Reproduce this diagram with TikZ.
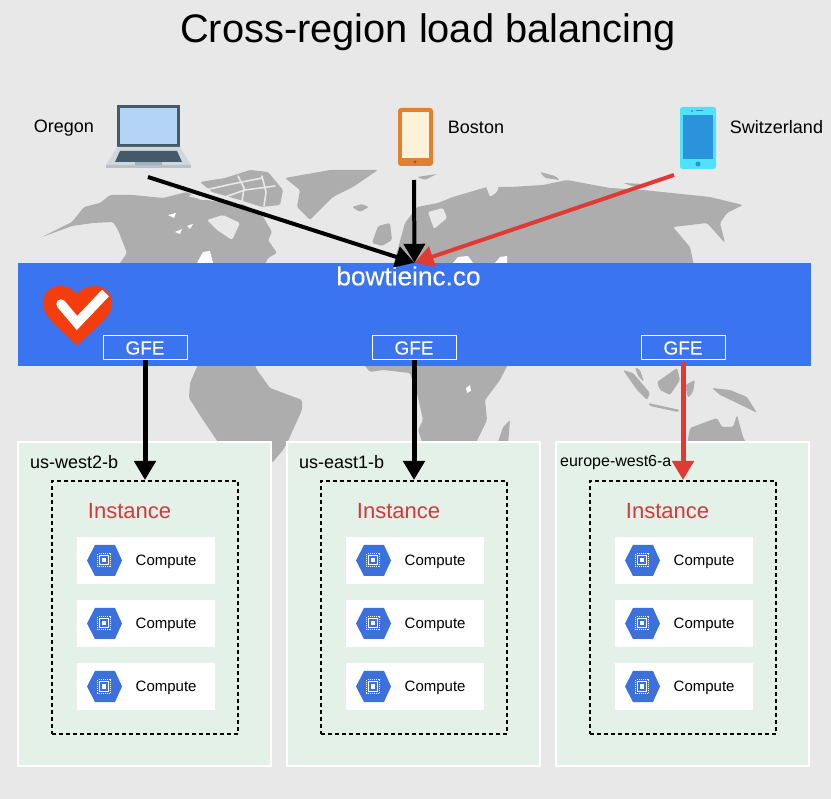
\documentclass[tikz,border=0pt]{standalone}
\usepackage{fontspec}
\setmainfont{Liberation Sans}
\newfontfamily\semibold[FakeBold=0.25]{Liberation Sans}
\usetikzlibrary{arrows.meta}
\definecolor{bgc}{HTML}{E8E8E8}
\definecolor{mapc}{HTML}{ADADAD}
\definecolor{bandc}{HTML}{3B74F0}
\definecolor{zonec}{HTML}{E3F1E8}
\definecolor{redc}{HTML}{E03A35}
\definecolor{instc}{HTML}{CF3B3B}
\definecolor{hexc}{HTML}{3C71DC}
\definecolor{heartc}{HTML}{F33D0C}
\definecolor{lapdark}{HTML}{455A69}
\definecolor{lapscreen}{HTML}{B3D4F5}
\definecolor{lapbase}{HTML}{CFD8DC}
\definecolor{lapnotch}{HTML}{9FB0BB}
\definecolor{lapedge}{HTML}{B5C2C9}
\definecolor{tabc}{HTML}{E08030}
\definecolor{tabscreen}{HTML}{FDF2D8}
\definecolor{tabbtn}{HTML}{A85A1C}
\definecolor{phonec}{HTML}{4FE3FB}
\definecolor{phonescreen}{HTML}{2A93DC}
\tikzset{
  fs/.style={font=\fontsize{#1}{#1}\selectfont},
  sfs/.style={font=\semibold\fontsize{#1}{#1}\selectfont},
  land/.style={fill=mapc,draw=none,rounded corners=1.5pt},
  sea/.style={fill=bgc,draw=none,rounded corners=1.5pt},
  seacut/.style={draw=bgc,line width=1.6pt,line cap=round},
  lake/.style={fill=white,draw=none},
  zonebox/.style={draw=white,line width=2pt,fill=zonec,minimum width=253pt,minimum height=324pt,inner sep=0pt},
  instbox/.style={draw=black,line width=2pt,dash pattern=on 4pt off 3pt,minimum width=186pt,minimum height=253pt,inner sep=0pt},
  compbox/.style={fill=white,minimum width=138pt,minimum height=47pt,inner sep=0pt},
  gfebox/.style={draw=white,line width=1pt,minimum width=84pt,minimum height=24pt,inner sep=0pt,text=white,sfs=19,fill=bandc},
  blackarrow/.style={draw=black,line width=4pt,-{Triangle[length=19pt,width=21pt]}},
  redarrow/.style={draw=redc,line width=4pt,-{Triangle[length=19pt,width=21pt]}},
}
\newcommand{\computeRow}[3]{%
  \node[compbox] (comp#1#2) at (146,#3) {};
  \node[fs=15,anchor=west,inner sep=0pt] (lab#1#2) at (135.5,#3+1.5) {Compute};
  \fill[hexc] (87,#3) -- ++(8,-15.5) -- ++(20,0) -- ++(7,15.5) -- ++(-7,15.5) -- ++(-20,0) -- cycle;
  \draw[white,line width=1pt] (99.5,#3-4.5) rectangle (108.5,#3+4.5);
  \fill[white] (102,#3-2) rectangle (106,#3+2);
  \draw[white,line width=1pt,dash pattern=on 1pt off 1pt] (97.5,#3-6.5) rectangle (110.5,#3+6.5);
}
\newcommand{\zoneBlock}[2]{%
  \begin{scope}[xshift=#2pt]
    \node[zonebox] (zone#1) at (144.5,604) {};
    \node[instbox] (inst#1) at (145,607.5) {};
    \node[fs=22,text=instc] (instlab#1) at (129.5,511) {Instance};
    \computeRow{#1}{a}{560.5}
    \computeRow{#1}{b}{623.5}
    \computeRow{#1}{c}{686.5}
  \end{scope}
}
\begin{document}
\begin{tikzpicture}[x=1pt,y=-1pt]
\useasboundingbox (0,0) rectangle (831,799);
\fill[bgc] (0,0) rectangle (831,799);
% world map
\fill[land] (42,237) -- (72,222) -- (84,207) -- (100,203) -- (110,195) -- (133,195) -- (163,198) -- (187,192) -- (200,200) -- (225,200) -- (245,205) -- (262,215) -- (272,232) -- (268,240) -- (277,253) -- (268,258) -- (262,270) -- (115,270) -- (127,253) -- (118,230) -- (113,222) -- (93,223) -- (72,226) -- cycle;
\fill[sea] (207,220) -- (223,215) -- (240,223) -- (232,240) -- (217,230) -- cycle;
\fill[land] (200,182) -- (225,178) -- (250,170) -- (268,172) -- (283,190) -- (280,205) -- (262,207) -- (240,200) -- (212,192) -- cycle;
\draw[seacut] (205,190) -- (232,184) -- (262,178);
\draw[seacut] (222,198) -- (245,190) -- (275,186);
\draw[seacut] (238,176) -- (244,188) -- (242,202);
\draw[seacut] (262,176) -- (266,192) -- (264,206);
\draw[seacut] (190,196) -- (212,200) -- (240,204);
\fill[land] (285,178) -- (330,170) -- (378,170) -- (353,187) -- (333,197) -- (310,220) -- (297,207) -- (300,190) -- cycle;
\fill[land] (352,207) -- (362,204) -- (369,207) -- (360,212) -- cycle;
\fill[land] (372,243) -- (378,226) -- (390,223) -- (392,240) -- (382,246) -- cycle;
\fill[land] (392,270) -- (405,223) -- (417,207) -- (438,203) -- (453,197) -- (487,187) -- (510,187) -- (543,185) -- (567,180) -- (610,188) -- (643,190) -- (710,197) -- (743,205) -- (727,213) -- (720,223) -- (725,243) -- (707,223) -- (673,227) -- (690,247) -- (695,270) -- cycle;
\fill[sea] (428,212) -- (443,208) -- (447,218) -- (434,229) -- cycle;
\fill[sea] (486,186) -- (500,182) -- (497,192) -- (490,197) -- cycle;
\fill[land] (417,177) -- (437,174) -- (425,180) -- cycle;
\fill[land] (540,172) -- (555,176) -- (560,180) -- (545,178) -- cycle;
\fill[land] (623,183) -- (643,184) -- (635,187) -- cycle;
\fill[lake] (453,263) -- (458,257) -- (468,256) -- (473,263) -- cycle;
\fill[lake] (495,263) -- (500,257) -- (507,256) -- (507,263) -- cycle;
\fill[lake] (197,263) -- (203,252) -- (210,251) -- (213,263) -- cycle;
\fill[lake] (168,215) -- (176,213) -- (174,218) -- cycle;
\fill[lake] (175,232) -- (182,229) -- (180,234) -- cycle;
\fill[lake] (187,226) -- (193,224) -- (190,229) -- cycle;
% southern landmasses
\fill[land] (200,360) -- (190,383) -- (189,398) -- (203,420) -- (220,445) -- (272,445) -- (272,463) -- (283,450) -- (288,441) -- (302,410) -- (302,400) -- (270,388) -- (257,370) -- (253,360) -- cycle;
\fill[land] (360,360) -- (370,372) -- (383,370) -- (410,373) -- (417,393) -- (423,420) -- (418,430) -- (423,445) -- (475,445) -- (487,420) -- (485,400) -- (500,380) -- (510,360) -- cycle;
\fill[lake] (466,388) -- (470,385) -- (471,391) -- (467,393) -- cycle;
\fill[land] (497,445) -- (503,427) -- (510,420) -- (508,445) -- cycle;
\fill[land] (623,370) -- (633,373) -- (650,393) -- (647,400) -- (637,390) -- cycle;
\fill[land] (635,367) -- (640,370) -- (644,382) -- (638,376) -- cycle;
\fill[land] (657,382) -- (677,368) -- (680,380) -- (670,395) -- (660,390) -- cycle;
\fill[land] (648,403) -- (680,410) -- (678,412) -- (650,406) -- cycle;
\fill[land] (685,385) -- (695,380) -- (693,392) -- (688,398) -- cycle;
\fill[land] (712,388) -- (730,390) -- (747,397) -- (757,413) -- (737,403) -- (720,395) -- cycle;
\fill[land] (687,445) -- (690,428) -- (703,423) -- (717,418) -- (722,427) -- (733,427) -- (737,415) -- (743,437) -- (747,445) -- cycle;
% load balancer band
\node[fill=bandc,minimum width=793pt,minimum height=103pt,inner sep=0pt] (band) at (414.5,314.5) {};
\node[sfs=26.2,text=white] (bandlab) at (408.5,276) {bowtieinc.co};
\node[gfebox] (gfe1) at (145,348) {GFE};
\node[gfebox] (gfe2) at (414,348) {GFE};
\node[gfebox] (gfe3) at (683,348) {GFE};
% heart logo
\fill[heartc] (77,346) .. controls (60,328) and (43,318) .. (43,303) .. controls (43,292) and (52,286) .. (60,286) .. controls (67,286) and (73,289) .. (77,294) .. controls (81,289) and (88,286) .. (95,286) .. controls (104,286) and (112,293) .. (112,303) .. controls (112,318) and (94,328) .. (77,346) -- cycle;
\draw[white,line width=9.5pt,line join=miter] (61,304) -- (77,323) -- (105.5,293);
\fill[white] (61,304) circle (4.75pt);
% devices
\fill[lapdark] (117,105) rectangle (180,147);
\fill[lapscreen] (120,108) rectangle (177,144);
\fill[lapbase] (117,147) -- (180,147) -- (191,165) -- (106,165) -- cycle;
\fill[lapdark] (120,151) -- (177,151) -- (182,162) -- (115,162) -- cycle;
\fill[lapnotch] (135,162) rectangle (162,165);
\fill[lapedge] (106,165) rectangle (191,168);
\node[minimum width=85pt,minimum height=63pt,inner sep=0pt] (laptop) at (148.5,136.5) {};
\node[fs=18] (oregon) at (63.8,128) {Oregon};
\node[fill=tabc,rounded corners=3pt,minimum width=35pt,minimum height=58pt,inner sep=0pt] (tablet) at (415.5,137) {};
\fill[tabscreen] (402,112) rectangle (429,158);
\fill[tabbtn] (415,162) circle (1.7pt);
\node[fs=18] (boston) at (476,127.5) {Boston};
\node[fill=phonec,rounded corners=2.5pt,minimum width=36pt,minimum height=62pt,inner sep=0pt] (phone) at (698,138) {};
\fill[phonescreen] (683,115) rectangle (713,159);
\fill[phonescreen] (698,164) circle (2.5pt);
\fill[phonescreen] (692,111) circle (1.1pt);
\draw[phonescreen,line width=1pt] (696,111) -- (703,111);
\node[fs=18] (swiss) at (776.5,127.5) {Switzerland};
\coordinate (laptopOut) at (148,177);
\coordinate (tabletOut) at (414,180);
\coordinate (phoneOut) at (674,175);
% title
\node[fs=39.8] (title) at (428,32) {Cross-region load balancing};
% zones
\zoneBlock{1}{0}
\zoneBlock{2}{269}
\zoneBlock{3}{538}
\node[fs=18,anchor=west,inner sep=0pt] (zname1) at (30,462.5) {us-west2-b};
\node[fs=18,anchor=west,inner sep=0pt] (zname2) at (299,462.5) {us-east1-b};
\node[fs=16,anchor=west,inner sep=0pt] (zname3) at (560,462.5) {europe-west6-a};
% connectors
\draw[redarrow] (phoneOut) -- (band.north);
\draw[blackarrow] (laptopOut) -- (band.north);
\draw[blackarrow] (tabletOut) -- (band.north);
\draw[blackarrow,line width=5pt] (gfe1.south) -- (inst1.north);
\draw[blackarrow,line width=5pt] (gfe2.south) -- (inst2.north);
\draw[redarrow,line width=5pt,shorten <=2pt] (gfe3.south) -- (inst3.north);
\end{tikzpicture}
\end{document}
